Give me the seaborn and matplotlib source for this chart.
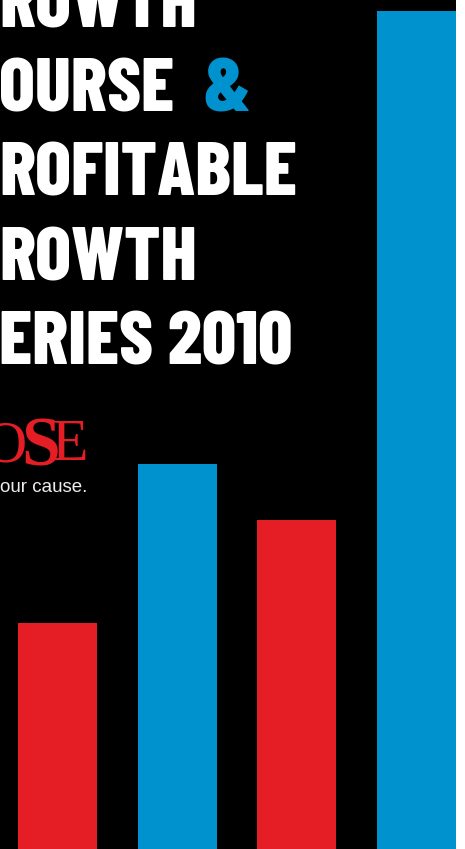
import matplotlib
matplotlib.use("Agg")
import matplotlib.pyplot as plt
import seaborn as sns
import pandas as pd

# ---- data ----
categories = ["A", "B", "C", "D"]
values = [226, 385, 329, 838]
bar_colors = ["#E51D25", "#0092CF", "#E51D25", "#0092CF"]
title_lines = ["ROWTH", "OURSE", "ROFITABLE", "ROWTH", "ERIES 2010"]
amp = "&"
logo_letters = ["O", "S", "E"]
tagline = "our cause."

W, H = 465, 849
fig = plt.figure(figsize=(W / 100, H / 100), dpi=100, facecolor="white")
ax = fig.add_axes([0, 0, 456 / W, 1])
ax.set_facecolor("black")

df = pd.DataFrame({"cat": categories, "val": values})
sns.barplot(data=df, x="cat", y="val", hue="cat", palette=bar_colors,
            width=0.66, saturation=1, legend=False, ax=ax, linewidth=0)
ax.set_xlim(-0.48, 3.33)
ax.set_ylim(0, 849)
ax.set_xticks([])
ax.set_yticks([])
ax.set_xlabel("")
ax.set_ylabel("")
for s in ax.spines.values():
    s.set_visible(False)


def px(x, y):
    return x / W, 1 - y / H


title_font = ["Barlow Condensed", "DejaVu Sans"]
baselines = [27, 111.5, 196, 280.5, 365]
for txt, yb in zip(title_lines, baselines):
    fig.text(*px(-1, yb), txt, color="white", fontsize=54, fontweight=800,
             family=title_font, ha="left", va="baseline")
fig.text(*px(203, 111.5), amp, color="#0092CF", fontsize=54, fontweight=800,
         family=title_font, ha="left", va="baseline")

serif = ["Liberation Serif", "DejaVu Serif"]
fig.text(*px(27, 462), logo_letters[0], color="#E51D25", fontsize=43,
         family=serif, ha="right", va="baseline")
fig.text(*px(41, 466), logo_letters[1], color="#E51D25", fontsize=50,
         fontweight="bold", family=serif, ha="center", va="baseline")
fig.text(*px(88, 460), logo_letters[2], color="#E51D25", fontsize=43,
         family=serif, ha="right", va="baseline")

fig.text(*px(0, 492), tagline, color="#EDEDED", fontsize=13.5,
         family=["Liberation Sans", "DejaVu Sans"], ha="left", va="baseline")

fig.savefig("out.png", dpi=100, facecolor="white")
